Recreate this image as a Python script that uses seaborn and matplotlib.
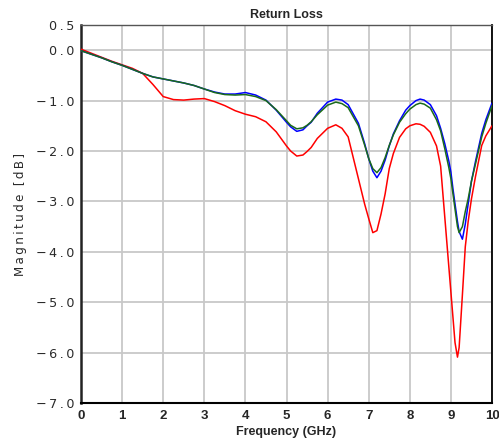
import matplotlib
matplotlib.use("Agg")
import matplotlib.pyplot as plt
import seaborn as sns
import pandas as pd

freq = [0, 0.25, 0.5, 0.75, 1.0, 1.25, 1.5, 1.75, 2.0, 2.25, 2.5, 2.75, 3.0, 3.25,
        3.5, 3.75, 4.0, 4.25, 4.5, 4.75,
        5.0, 5.1, 5.25, 5.4, 5.5, 5.6, 5.75,
        6.0, 6.2, 6.35, 6.5, 6.75, 6.9,
        7.0, 7.1, 7.2, 7.3, 7.4, 7.5, 7.6, 7.75, 7.9,
        8.0, 8.15, 8.25, 8.35, 8.5, 8.65, 8.75, 8.85, 8.95,
        9.0, 9.05, 9.1, 9.16, 9.2, 9.28, 9.35, 9.42, 9.5, 9.6, 9.75, 9.85,
        10.0]

blue = [-0.01, -0.08, -0.15, -0.23, -0.30, -0.38, -0.46, -0.53, -0.57, -0.61,
        -0.65, -0.70, -0.77, -0.83, -0.87, -0.87, -0.84, -0.89, -0.99, -1.19,
        -1.43, -1.52, -1.61, -1.58, -1.50, -1.43, -1.25,
        -1.03, -0.97, -0.99, -1.08, -1.45, -1.85,
        -2.15, -2.40, -2.53, -2.40, -2.18, -1.90, -1.66, -1.40, -1.19,
        -1.10, -1.00, -0.97, -0.99, -1.08, -1.30, -1.55, -1.85, -2.20,
        -2.42, -2.75, -3.05, -3.40, -3.60, -3.75, -3.45, -3.05, -2.60, -2.20, -1.65, -1.38,
        -1.05]

green = [-0.01, -0.08, -0.15, -0.23, -0.30, -0.38, -0.46, -0.53, -0.57, -0.61,
         -0.65, -0.70, -0.77, -0.84, -0.88, -0.89, -0.88, -0.92, -1.00, -1.18,
         -1.40, -1.49, -1.56, -1.54, -1.49, -1.42, -1.28,
         -1.09, -1.03, -1.06, -1.14, -1.50, -1.88,
         -2.15, -2.35, -2.43, -2.33, -2.13, -1.89, -1.68, -1.43, -1.26,
         -1.17, -1.08, -1.05, -1.07, -1.15, -1.38, -1.60, -1.95, -2.33,
         -2.55, -2.85, -3.15, -3.50, -3.62, -3.50, -3.20, -2.95, -2.60, -2.25, -1.72, -1.45,
         -1.10]

red = [0.02, -0.06, -0.14, -0.22, -0.29, -0.36, -0.46, -0.68, -0.92, -0.98,
       -0.99, -0.97, -0.96, -1.02, -1.10, -1.20, -1.27, -1.32, -1.42, -1.62,
       -1.90, -2.00, -2.10, -2.08, -2.01, -1.93, -1.75,
       -1.55, -1.48, -1.55, -1.72, -2.55, -3.05,
       -3.34, -3.62, -3.58, -3.25, -2.85, -2.35, -2.05, -1.73, -1.56,
       -1.50, -1.46, -1.47, -1.51, -1.63, -1.90, -2.30, -3.30, -4.30,
       -4.80, -5.30, -5.80, -6.09, -5.90, -4.85, -3.90, -3.40, -2.95, -2.50, -1.89, -1.70,
       -1.50]

series_names = ["S11 a", "S11 b", "S11 c"]
series_colors = {"S11 a": "#0000ff", "S11 b": "#1a6b1a", "S11 c": "#ff0000"}

TS = "\u2009"  # thin space for letter spacing
yticks = [0.5, 0.0, -1.0, -2.0, -3.0, -4.0, -5.0, -6.0, -7.0]
ytick_labels = [TS.join(s) for s in ["0.5", "0.0", "\u22121.0", "\u22122.0", "\u22123.0",
                                      "\u22124.0", "\u22125.0", "\u22126.0", "\u22127.0"]]
xticks = list(range(0, 11))
xtick_labels = [str(v) for v in xticks]

title = "Return Loss"
xlabel = "Frequency (GHz)"
ylabel = TS.join("Magnitude [dB]")

df = pd.concat([
    pd.DataFrame({"freq": freq, "mag": vals, "series": name})
    for name, vals in zip(series_names, [blue, green, red])
], ignore_index=True)

sns.set_style("white")
fig = plt.figure(figsize=(4.99, 4.46), dpi=100)
ax = fig.add_axes([81 / 499, 1 - 403 / 446, 411 / 499, 378 / 446])

for name, z in [("S11 c", 3), ("S11 a", 4), ("S11 b", 5)]:
    sns.lineplot(data=df[df["series"] == name], x="freq", y="mag",
                 color=series_colors[name], linewidth=1.1, ax=ax, zorder=z,
                 legend=False, sort=True)

ax.set_xlim(0, 10)
ax.set_ylim(-7.0, 0.5)
ax.set_xticks(xticks)
ax.set_xticklabels(xtick_labels, fontfamily="Liberation Sans", fontweight="bold", fontsize=9.5)
ax.set_yticks(yticks)
ax.set_yticklabels(ytick_labels, fontfamily="DejaVu Sans", fontsize=9.2, color="#2a2a2a")

ax.grid(True, color="#c8c8c8", linewidth=1.3, zorder=0)
ax.set_axisbelow(True)

ax.tick_params(axis="y", direction="out", length=4, width=1, color="#333333", pad=1)
ax.tick_params(axis="x", direction="out", length=2, width=1, color="#333333", pad=3)

ax.spines["left"].set_linewidth(1.8)
ax.spines["left"].set_color("#222222")
ax.spines["bottom"].set_linewidth(1.5)
ax.spines["bottom"].set_color("#000000")
ax.spines["right"].set_linewidth(1.3)
ax.spines["right"].set_color("#000000")
ax.spines["top"].set_linewidth(1.0)
ax.spines["top"].set_color("#555555")

ax.set_title(title, fontfamily="Liberation Sans", fontweight="bold", fontsize=9, pad=5)
ax.set_xlabel(xlabel, fontfamily="Liberation Sans", fontweight="bold", fontsize=9, labelpad=3)
ax.set_ylabel(ylabel, fontfamily="DejaVu Sans", fontsize=8.6, color="#2a2a2a", labelpad=6)

fig.savefig("out.png", dpi=100)
